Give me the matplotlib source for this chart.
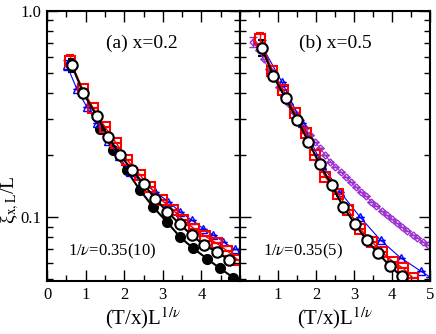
import numpy as np
import matplotlib
matplotlib.use("Agg")
from matplotlib import pyplot as plt
from matplotlib.ticker import MultipleLocator, FixedLocator, LogLocator, NullFormatter

plt.rcParams['font.family'] = ['Liberation Serif', 'DejaVu Serif']
plt.rcParams['mathtext.fontset'] = 'stix'

# panel (a) x=0.2
a_sq_x = [0.60, 0.92, 1.20, 1.50, 1.80, 2.08, 2.41, 2.67, 2.97, 3.27, 3.53, 3.81, 4.09, 4.40, 4.67, 4.93]
a_sq_y = [0.574, 0.420, 0.337, 0.274, 0.228, 0.189, 0.160, 0.140, 0.121, 0.108, 0.0967, 0.088, 0.081, 0.0745, 0.0686, 0.0623]
a_tri_x = [0.51, 0.77, 1.03, 1.30, 1.58, 1.86, 2.14, 2.45, 2.80, 3.14, 3.45, 3.75, 4.05, 4.31, 4.57, 4.87]
a_tri_y = [0.547, 0.420, 0.343, 0.285, 0.235, 0.197, 0.166, 0.148, 0.133, 0.119, 0.106, 0.0967, 0.088, 0.0818, 0.0759, 0.0697]
a_oc_x = [0.64, 0.94, 1.29, 1.59, 1.89, 2.20, 2.50, 2.80, 3.12, 3.44, 3.75, 4.07, 4.40, 4.72]
a_oc_y = [0.547, 0.400, 0.309, 0.245, 0.200, 0.170, 0.145, 0.123, 0.106, 0.0925, 0.0818, 0.0731, 0.0680, 0.0618]
a_fc_x = [1.37, 1.72, 2.06, 2.41, 2.75, 3.10, 3.45, 3.79, 4.14, 4.48, 4.83]
a_fc_y = [0.269, 0.211, 0.169, 0.135, 0.112, 0.095, 0.080, 0.0705, 0.063, 0.0564, 0.0509]

# panel (b) x=0.5
b_sq_x = [0.53, 0.85, 1.14, 1.45, 1.74, 1.97, 2.24, 2.59, 2.85, 3.16, 3.47, 3.73, 4.03, 4.30, 4.56]
b_sq_y = [0.729, 0.513, 0.414, 0.319, 0.255, 0.200, 0.157, 0.130, 0.108, 0.088, 0.0759, 0.0679, 0.0607, 0.0564, 0.0504]
b_tri_x = [0.57, 1.10, 1.63, 2.16, 2.63, 3.16, 3.70, 4.23, 4.76]
b_tri_y = [0.680, 0.454, 0.285, 0.180, 0.133, 0.100, 0.0773, 0.0634, 0.0547]
b_oc_x = [0.57, 0.88, 1.20, 1.51, 1.80, 2.10, 2.41, 2.72, 3.03, 3.33, 3.64, 3.95, 4.25]
b_oc_y = [0.664, 0.483, 0.377, 0.296, 0.232, 0.181, 0.143, 0.112, 0.0925, 0.0773, 0.0667, 0.0578, 0.0517]
b_dm_x = [0.35, 0.49, 0.62, 0.76, 0.89, 1.03, 1.16, 1.30, 1.43, 1.57, 1.70, 1.84, 1.97, 2.11, 2.24, 2.38,
          2.51, 2.65, 2.78, 2.92, 3.05, 3.19, 3.32, 3.46, 3.59, 3.73, 3.86, 4.00, 4.13, 4.27, 4.40, 4.54,
          4.67, 4.81, 4.94]
b_dm_y = [0.708, 0.646, 0.582, 0.525, 0.473, 0.427, 0.389, 0.355, 0.324, 0.295, 0.272, 0.251, 0.232, 0.216,
          0.200, 0.186, 0.176, 0.166, 0.157, 0.148, 0.140, 0.132, 0.126, 0.119, 0.1135, 0.107, 0.102,
          0.0977, 0.0933, 0.0891, 0.0861, 0.0822, 0.0794, 0.0759, 0.0733]

# error bars only on first point
a_err = {'sq': 0.04, 'tri': 0.03, 'oc': 0.04}
b_err = {'sq': 0.05, 'tri': 0.04, 'oc': 0.06, 'dm': 0.04}

purple = '#9a30d0'


def first_err(xs, e):
    err = np.zeros(len(xs))
    err[0] = e
    return err


fig = plt.figure(figsize=(4.36, 3.34), dpi=100)
axa = fig.add_axes([47/436, 53/334, 193/436, 270/334])
axb = fig.add_axes([240/436, 53/334, 190/436, 270/334])


def series(ax, x, y, err, **kw):
    ax.errorbar(x, y, yerr=first_err(x, err), capsize=3, elinewidth=1, capthick=1, **kw)


series(axa, a_tri_x, a_tri_y, a_err['tri'], color='#0000ff', lw=0.8, marker='^', ms=5.5,
       mfc='none', mec='#0000ff', mew=1.0)
series(axa, a_sq_x, a_sq_y, a_err['sq'], color='#ff0000', lw=1.0, marker='s', ms=6.5,
       mfc='none', mec='#ff0000', mew=1.5)
axa.plot(a_fc_x, a_fc_y, color='k', lw=1.5, marker='o', ms=7, mfc='k', mec='k')
series(axa, a_oc_x, a_oc_y, a_err['oc'], color='k', lw=1.5, marker='o', ms=7.5,
       mfc='white', mec='k', mew=1.5)

series(axb, b_dm_x, b_dm_y, b_err['dm'], color=purple, lw=0.8, marker='D', ms=3.5,
       mfc='none', mec=purple, mew=1.0)
series(axb, b_tri_x + [5.0], b_tri_y + [0.0512], b_err['tri'], color='#0000ff', lw=0.8, marker='^', ms=5.5,
       mfc='none', mec='#0000ff', mew=1.0, markevery=list(range(len(b_tri_x))))
series(axb, b_sq_x, b_sq_y, b_err['sq'], color='#ff0000', lw=1.0, marker='s', ms=6.5,
       mfc='none', mec='#ff0000', mew=1.5)
series(axb, b_oc_x, b_oc_y, b_err['oc'], color='k', lw=1.5, marker='o', ms=7.5,
       mfc='white', mec='k', mew=1.5)

for ax in (axa, axb):
    ax.set_yscale('log')
    ax.set_xlim(0, 5)
    ax.set_ylim(0.049, 1.0)
    ax.xaxis.set_major_locator(MultipleLocator(1))
    ax.xaxis.set_minor_locator(MultipleLocator(0.5))
    ax.yaxis.set_major_locator(FixedLocator([0.1, 1.0]))
    ax.yaxis.set_minor_locator(LogLocator(base=10, subs=np.arange(2, 10)))
    ax.yaxis.set_minor_formatter(NullFormatter())
    ax.tick_params(which='both', direction='in', top=True, right=True, labelsize=12, width=1.0)
    ax.tick_params(which='major', length=8, pad=4)
    ax.tick_params(which='minor', length=4.5)
    for s in ax.spines.values():
        s.set_linewidth(1.5)
    ax.set_xlabel(r'(T/x)L$^{1/\nu}$', fontsize=15, labelpad=2)

axa.set_xticks([0, 1, 2, 3, 4])
axa.set_xticklabels(['0', '1', '2', '3', '4'])
axa.set_yticklabels(['0.1', '1.0'])
axb.set_xticks([1, 2, 3, 4, 5])
axb.set_xticklabels(['1', '2', '3', '4', '5'])
axb.set_yticklabels([])

axa.text(0.49, 0.88, '(a) x=0.2', transform=axa.transAxes, ha='center', va='center', fontsize=14)
axb.text(0.50, 0.88, '(b) x=0.5', transform=axb.transAxes, ha='center', va='center', fontsize=14)
axa.text(0.34, 0.11, r'1/$\nu$=0.35(10)', transform=axa.transAxes, ha='center', va='center', fontsize=12)
axb.text(0.33, 0.11, r'1/$\nu$=0.35(5)', transform=axb.transAxes, ha='center', va='center', fontsize=12)

fig.text(10/436, 1 - 200/334, r'ξ$_{\rm x,L}$/L', rotation=90, ha='center', va='center', fontsize=14)

fig.savefig('out.png', dpi=100)
